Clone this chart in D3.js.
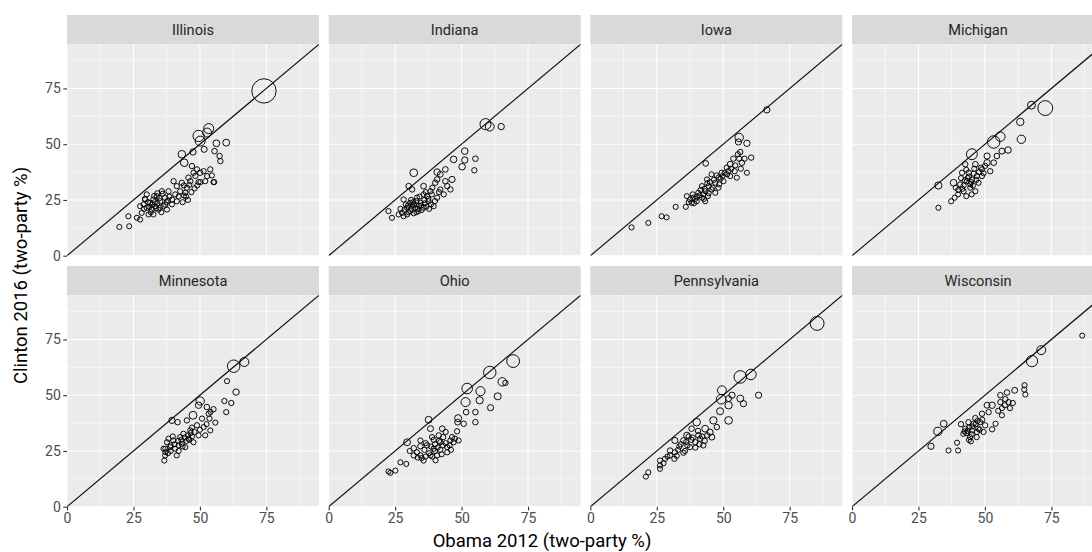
<!DOCTYPE html>
<html>
<head>
<meta charset="utf-8">
<script src="https://cdn.jsdelivr.net/npm/d3@7"></script>
<style>
  html, body { margin: 0; padding: 0; background: #fff; }
  svg { display: block; font-family: Roboto, "DejaVu Sans", sans-serif; }
</style>
</head>
<body>
<svg id="chart" width="1092" height="552"></svg>
<script>
// ---- data: [Obama 2012 %, Clinton 2016 %, population (thousands)] ----
const states = ["Illinois", "Indiana", "Iowa", "Michigan", "Minnesota", "Ohio", "Pennsylvania", "Wisconsin"];
const xTicks = [0, 25, 50, 75];
const yTicks = [0, 25, 50, 75];
const xTitle = "Obama 2012 (two-party %)";
const yTitle = "Clinton 2016 (two-party %)";

const illinois = [
  [74.1,73.9,5200],
  [53.3,57.0,700],[49.5,53.7,930],[52.7,55.2,520],[50.1,51.4,680],[56.2,50.4,200],[59.9,50.7,210],[51.6,47.7,110],[55.5,46.9,60],[57.4,44.7,50],[57.7,42.4,40],[43.2,45.5,300],[44.1,41.7,300],[47.4,46.5,130],
  [47.0,40.2,40],[48.9,38.7,35],[50.1,37.2,60],[47.6,37.2,30],[45.7,35.0,45],[51.4,37.9,30],[53.9,38.7,40],[52.7,35.7,25],[49.5,33.0,30],[55.4,33.0,20],[52.0,33.4,20],[48.3,35.8,40],[50.2,33.0,25],[55.1,33.0,20],[54.5,36.0,20],
  [40.1,33.4,35],[41.3,31.2,25],[43.2,32.7,35],[45.1,30.5,30],[42.6,28.9,25],[40.7,27.5,20],[44.5,28.2,25],[39.5,25.2,20],[41.3,24.4,20],[39.5,23.0,15],[46.4,33.4,40],[44.0,31.5,20],[42.0,26.5,15],
  [35.7,28.9,30],[33.8,26.7,25],[32.5,25.2,20],[35.1,24.4,30],[31.3,23.7,20],[33.2,22.2,20],[30.0,21.5,20],[31.9,20.7,15],[34.4,20.7,20],[29.4,25.2,20],[27.5,22.2,15],[28.1,19.2,15],[26.3,17.0,15],[30.7,18.5,15],[32.5,18.5,15],[36.3,22.2,25],[36.9,26.0,25],[30.0,27.5,20],[28.8,23.0,15],[23.1,17.7,15],[19.7,12.9,10],[23.4,13.2,10],[27.5,16.2,15],[37.6,20.7,20],[38.2,28.9,25],[34.0,23.5,20],[31.0,22.0,15],[33.0,24.0,20],[29.3,25.5,15],[35.0,21.5,15],[37.5,24.0,15],[38.5,26.5,20],
  [32.0,23.0,15],[34.8,25.8,15],[36.0,27.8,20],[33.5,21.2,15],[30.5,24.0,15],[29.0,21.0,15],[37.0,22.8,15],[35.5,19.5,15],[32.8,26.8,20],[34.0,28.0,20],[31.5,19.5,15],[38.0,24.8,15],[44.8,26.5,20],[45.5,25.0,20],[46.8,28.5,20],[43.5,24.0,15],[46.0,31.8,25],[48.0,30.2,20],[49.0,31.5,20],[44.0,27.0,15]
];
const indiana = [
  [59.0,59.0,900],[60.6,57.9,490],[64.9,57.9,140],
  [51.2,46.9,180],[47.0,43.2,170],[51.2,42.9,140],[55.2,43.5,60],[50.2,39.9,170],[54.8,38.3,40],[32.0,37.2,320],[40.8,37.5,160],[43.9,38.7,70],[42.0,36.5,80],[46.4,34.2,130],[43.9,33.4,60],[40.1,32.7,50],[35.7,31.2,70],[30.1,31.2,60],[31.4,29.7,40],[45.8,29.7,40],[42.0,29.7,30],[38.3,28.9,30],[35.7,27.5,25],[28.2,25.2,30],[33.2,26.0,25],[40.8,26.0,25],[43.3,27.5,30],[30.7,23.7,25],[34.5,23.7,20],[37.6,24.4,20],[29.5,21.5,20],[32.6,21.5,20],[35.7,21.5,20],[39.5,22.2,15],[27.6,19.2,20],[30.7,20.0,15],[33.8,20.0,15],[26.3,18.5,15],[28.2,17.7,15],[22.5,20.0,20],[23.8,17.0,15],[37.0,26.7,20],[44.6,31.2,40],[40.8,34.2,60],[31.5,22.5,15],[29.0,23.0,15],[33.0,24.5,20],[36.0,25.0,15],[38.5,23.0,15],[34.0,22.5,15],[31.0,25.0,15],[27.0,21.0,15],[36.5,28.5,15],[39.0,30.5,20],
  [29.8,22.5,15],[31.0,21.0,15],[32.2,23.0,15],[33.5,21.0,15],[34.8,22.5,15],[36.2,23.5,15],[30.0,19.5,15],[28.5,20.5,15],[32.0,19.0,15],[35.0,20.5,15],[37.5,25.5,15],[38.8,27.5,20],[34.2,26.5,15],[36.8,22.0,15],[31.8,24.0,15],[33.0,19.5,15],[29.5,18.5,15],[37.8,21.0,15],[40.0,24.5,20],[41.5,28.5,20]
];
const iowa = [
  [66.4,65.4,130],[43.4,41.4,70],[15.5,12.7,15],[21.8,14.7,10],[26.8,17.7,10],[28.7,17.2,10],[32.1,21.9,15],[35.9,21.9,10],
  [56.0,53.0,430],[55.7,51.0,130],[58.9,50.4,150],[56.4,46.5,40],[53.8,43.5,40],[56.0,43.5,30],[58.0,43.5,30],[60.5,44.0,40],[56.6,39.0,20],[54.3,37.9,25],[58.9,37.2,15],[51.3,39.5,25],[49.4,37.2,20],[52.6,35.7,20],[55.1,35.0,20],[48.2,35.0,20],[45.6,36.5,15],[47.0,32.7,15],[43.9,34.2,20],[44.5,31.2,15],[42.0,31.2,20],[43.3,28.9,15],[40.6,28.2,20],[38.7,26.0,15],[37.5,25.2,15],[40.0,24.4,15],[42.0,26.0,15],[45.6,29.7,15],[47.0,28.2,15],[44.2,26.7,15],[43.2,24.4,15],[36.3,26.7,15],[38.1,23.7,10],[48.2,30.5,15],[50.1,33.4,20],[52.6,41.0,90],[57.0,41.7,60],[41.0,27.0,15],[39.5,25.5,10],[42.5,27.5,10],[46.0,30.5,10],[49.0,34.5,15],
  [41.5,29.5,15],[43.0,30.0,15],[44.0,32.5,15],[45.0,33.0,15],[46.5,34.0,15],[47.5,36.0,15],[49.8,35.8,15],[48.5,32.0,15],[50.5,37.0,15],[52.0,38.0,15],[53.0,39.0,15],[40.0,26.5,15],[38.5,27.5,15],[42.8,25.5,15],[44.5,28.0,15],[37.0,24.0,10],[39.0,23.5,10],[51.5,36.5,15],[54.5,40.5,15],[55.5,45.5,20]
];
const michigan = [
  [72.7,66.2,1800],[67.5,67.5,350],[63.3,60.0,280],[63.7,52.2,420],[53.3,51.0,1200],[55.8,53.4,600],[58.7,47.4,160],[56.4,46.9,100],[54.5,44.7,60],[45.1,45.5,860],[50.8,44.7,120],[50.8,41.7,150],[53.3,41.7,70],[46.4,41.0,60],[42.6,41.0,40],[48.9,38.7,30],[52.0,37.9,40],[43.9,37.2,40],[41.4,37.2,30],[47.0,35.7,30],[45.1,34.2,25],[43.2,33.4,25],[47.6,32.7,20],[40.7,32.0,20],[38.2,32.7,190],[32.5,31.5,250],[44.5,30.5,20],[42.0,28.9,15],[46.4,28.9,15],[39.9,27.5,15],[43.0,26.7,15],[38.6,26.0,15],[37.3,24.4,15],[32.5,21.5,15],[48.9,35.7,20],[50.1,40.3,30],[44.0,35.5,20],[45.5,31.5,20],[41.5,30.0,15],[44.5,32.0,20],
  [43.5,34.8,15],[45.8,36.8,15],[44.8,33.0,15],[46.8,34.0,15],[42.5,33.8,15],[41.0,34.8,15],[47.8,37.5,15],[46.0,39.0,20],[43.0,38.5,15],[42.0,31.5,15],[40.0,29.5,15],[45.0,27.5,15],[48.5,39.5,20],[49.5,37.0,15],[39.0,30.5,15]
];
const minnesota = [
  [62.7,63.0,1200],[66.7,64.9,540],[60.2,56.3,20],[63.6,51.4,150],[61.8,46.5,30],[59.2,47.4,30],[59.9,42.4,25],[50.1,47.4,400],[49.5,45.5,150],[52.6,44.7,60],[55.1,43.7,40],[53.3,41.7,25],[55.8,37.7,20],[53.6,39.5,30],[53.9,34.2,15],[50.8,39.5,30],[47.4,41.0,340],[45.1,38.7,40],[39.5,38.7,130],[41.6,37.9,50],[48.9,36.5,40],[51.4,35.7,20],[46.4,34.2,30],[49.5,32.0,20],[43.8,32.7,25],[45.7,30.5,25],[42.6,31.2,20],[40.0,29.7,20],[43.2,28.2,15],[37.6,28.9,20],[38.8,26.7,15],[36.3,26.0,15],[40.7,26.0,15],[44.5,26.7,15],[36.9,23.0,15],[41.3,23.0,15],[36.6,20.7,15],[38.2,30.5,15],[47.6,28.9,15],[52.0,32.0,15],[42.0,27.5,15],[45.0,29.5,15],[47.0,31.5,15],[39.0,25.0,15],[37.0,24.5,15],
  [39.0,27.5,15],[40.5,28.0,15],[41.8,29.5,15],[43.0,30.0,15],[44.2,31.0,15],[45.5,32.0,15],[46.5,33.0,15],[42.0,25.0,15],[38.0,24.0,15],[37.0,26.0,15],[39.8,31.5,15],[43.5,27.0,15],[46.0,30.0,15],[48.0,33.5,15],[50.0,34.5,15],[52.5,37.0,15],[54.0,42.5,15],[47.0,35.5,15]
];
const ohio = [
  [69.4,65.3,1270],[60.6,60.2,1200],[65.3,56.0,430],[66.5,55.5,40],[52.1,53.0,800],[57.1,51.8,540],[51.5,46.9,530],[56.8,47.7,250],[63.6,49.5,230],[60.9,44.4,120],[55.2,42.4,60],[51.7,42.4,70],[55.2,37.9,50],[48.7,39.7,230],[48.5,37.9,80],[50.8,37.2,50],[48.3,33.8,40],[37.6,39.0,200],[38.3,35.0,100],[42.7,35.0,60],[41.4,32.0,40],[29.5,28.9,200],[32.0,26.2,60],[34.5,27.1,40],[37.0,27.5,40],[32.0,23.0,30],[34.5,23.0,30],[35.7,20.7,30],[39.5,26.0,30],[42.0,28.9,40],[44.6,26.7,30],[47.0,28.9,25],[48.9,29.7,20],[40.8,23.0,25],[44.6,24.4,25],[38.3,23.0,20],[27.0,19.9,20],[22.5,15.8,20],[23.2,15.2,15],[25.1,16.2,15],[29.2,19.2,15],[33.2,24.4,20],[45.8,29.7,20],[38.9,31.2,30],[43.1,31.2,30],[46.4,31.2,25],[34.5,29.7,20],[40.0,28.0,20],[36.0,25.5,20],[42.0,25.5,20],
  [36.5,22.5,15],[37.8,24.0,20],[39.0,22.5,15],[40.0,25.0,20],[41.0,26.5,20],[41.5,29.5,20],[43.0,27.5,20],[44.0,28.5,20],[45.5,27.5,20],[46.0,25.5,15],[38.5,27.0,20],[36.5,28.5,20],[39.5,30.0,20],[42.5,23.5,15],[35.0,21.8,15],[33.5,22.0,15],[40.2,20.8,15],[47.5,30.5,20],[44.0,33.5,30],[30.5,25.0,20]
];
const pennsylvania = [
  [85.3,82.2,1550],[56.4,58.2,1220],[60.4,59.3,800],[63.3,50.0,130],[49.5,52.2,500],[49.2,48.2,620],[52.0,48.5,100],[53.3,50.0,130],[52.0,45.5,280],[56.4,48.5,210],[57.6,46.2,130],[48.8,42.8,230],[52.0,38.7,320],[46.3,38.7,270],[47.6,35.7,50],[40.0,37.9,300],[38.1,35.0,60],[43.2,35.0,200],[45.0,33.4,140],[36.3,32.0,140],[40.7,32.0,80],[31.8,29.7,120],[35.0,29.7,60],[39.5,28.9,40],[42.5,27.5,40],[37.5,26.7,30],[30.0,25.2,40],[31.8,24.4,30],[35.0,24.2,30],[35.6,25.0,20],[30.0,23.0,20],[28.1,21.5,20],[31.6,21.5,30],[26.2,20.7,25],[26.2,18.5,20],[26.2,17.0,15],[21.8,15.4,20],[20.9,13.5,15],[41.3,30.5,40],[45.7,31.2,90],[38.0,30.0,40],[43.0,29.5,40],[33.5,27.0,25],
  [33.0,25.5,20],[34.0,28.0,20],[36.5,27.5,20],[38.5,31.0,30],[39.5,26.5,20],[41.0,28.0,30],[42.0,31.5,30],[40.5,34.0,40],[37.0,31.5,30],[32.5,22.8,15],[29.0,22.5,15],[44.0,32.0,40],[36.0,29.0,20],[27.5,19.5,15]
];
const wisconsin = [
  [86.6,76.7,5],[71.2,70.2,500],[67.7,65.3,950],[64.9,54.5,15],[64.8,52.5,20],[65.2,50.3,20],[61.2,52.2,100],[58.3,51.2,60],[55.8,50.0,50],[57.7,48.2,40],[55.8,46.9,30],[58.9,46.9,20],[56.4,44.2,20],[59.4,44.2,20],[56.4,41.0,20],[52.7,45.5,160],[50.8,45.5,100],[51.4,42.4,40],[48.9,41.7,40],[46.4,39.7,50],[48.2,37.9,30],[45.7,37.2,50],[43.8,37.9,30],[50.1,36.5,40],[42.6,35.0,30],[45.1,34.2,25],[41.9,32.7,25],[44.4,31.2,20],[46.9,31.2,20],[44.7,29.3,20],[52.7,34.7,30],[54.0,37.2,20],[39.5,28.7,15],[39.9,25.2,15],[36.3,25.2,15],[34.5,37.2,200],[32.3,33.8,390],[29.7,27.1,130],[41.0,37.0,40],[47.5,35.0,25],[43.0,33.0,20],[49.5,33.5,20],
  [44.0,35.5,20],[45.3,36.0,20],[46.5,37.0,20],[47.2,38.5,20],[45.0,32.5,20],[43.5,34.0,20],[48.0,34.5,20],[49.0,39.0,20],[47.0,33.5,20],[42.3,33.8,15],[44.0,30.0,15],[55.0,43.0,20],[57.5,45.5,20],[60.5,46.5,20]
];
const stateData = [illinois, indiana, iowa, michigan, minnesota, ohio, pennsylvania, wisconsin];

// ---- layout ----
const svg = d3.select("#chart");
const ncol = 4;
const panelW = 252, panelH = 211.4, stripH = 29.3;
const left0 = 67, top0 = 15, gapX = 9.67, rowPitch = 251;
const domainMax = 94.8;

const x = d3.scaleLinear().domain([0, domainMax]).range([0, panelW]);
const y = d3.scaleLinear().domain([0, domainMax]).range([panelH, 0]);
const area = d3.scaleLinear().domain([0, 5200]).range([6.2, 148]);
const radius = p => Math.sqrt(area(p));

const minorX = [12.5, 37.5, 62.5, 87.5];
const minorY = [12.5, 37.5, 62.5, 87.5];

const defs = svg.append("defs");

states.forEach((name, i) => {
  const col = i % ncol, row = Math.floor(i / ncol);
  const px = left0 + col * (panelW + gapX);
  const stripTop = top0 + row * rowPitch;
  const py = stripTop + stripH;

  // strip
  svg.append("rect").attr("x", px).attr("y", stripTop).attr("width", panelW).attr("height", stripH)
    .attr("fill", "#d9d9d9");
  svg.append("text").attr("x", px + panelW / 2).attr("y", stripTop + stripH / 2 + 5.8)
    .attr("text-anchor", "middle").attr("font-size", "14.6px").attr("fill", "#262626").text(name);

  const g = svg.append("g").attr("transform", `translate(${px},${py})`);
  g.append("rect").attr("width", panelW).attr("height", panelH).attr("fill", "#ebebeb");

  defs.append("clipPath").attr("id", "clip" + i)
    .append("rect").attr("width", panelW).attr("height", panelH);

  // grid
  g.selectAll(".minx").data(minorX).join("line")
    .attr("x1", d => x(d)).attr("x2", d => x(d)).attr("y1", 0).attr("y2", panelH)
    .attr("stroke", "#fff").attr("stroke-width", 0.55);
  g.selectAll(".miny").data(minorY).join("line")
    .attr("y1", d => y(d)).attr("y2", d => y(d)).attr("x1", 0).attr("x2", panelW)
    .attr("stroke", "#fff").attr("stroke-width", 0.55);
  g.selectAll(".majx").data(xTicks).join("line")
    .attr("x1", d => x(d)).attr("x2", d => x(d)).attr("y1", 0).attr("y2", panelH)
    .attr("stroke", "#fff").attr("stroke-width", 1.1);
  g.selectAll(".majy").data(yTicks).join("line")
    .attr("y1", d => y(d)).attr("y2", d => y(d)).attr("x1", 0).attr("x2", panelW)
    .attr("stroke", "#fff").attr("stroke-width", 1.1);

  const plot = g.append("g").attr("clip-path", `url(#clip${i})`);
  // identity line
  plot.append("line").attr("x1", x(0)).attr("y1", y(0)).attr("x2", x(100)).attr("y2", y(100))
    .attr("stroke", "#111").attr("stroke-width", 1.2);
  // points
  plot.selectAll("circle").data(stateData[i]).join("circle")
    .attr("cx", d => x(d[0])).attr("cy", d => y(d[1])).attr("r", d => radius(d[2]))
    .attr("fill", "none").attr("stroke", "#000").attr("stroke-width", 0.95);

  // axes
  if (col === 0) {
    const ya = g.append("g").call(d3.axisLeft(y).tickValues(yTicks).tickSize(3.7).tickPadding(2.5));
    ya.select(".domain").remove();
    ya.selectAll("line").attr("stroke", "#333").attr("stroke-width", 1.1);
    ya.selectAll("text").attr("fill", "#4d4d4d").attr("font-size", "14px").attr("font-family", "Roboto, sans-serif");
  }
  if (row === 1) {
    const xa = g.append("g").attr("transform", `translate(0,${panelH})`)
      .call(d3.axisBottom(x).tickValues(xTicks).tickSize(3.7).tickPadding(3));
    xa.select(".domain").remove();
    xa.selectAll("line").attr("stroke", "#333").attr("stroke-width", 1.1);
    xa.selectAll("text").attr("fill", "#4d4d4d").attr("font-size", "14px").attr("font-family", "Roboto, sans-serif");
  }
});

// axis titles
svg.append("text").attr("x", 542).attr("y", 546.5).attr("text-anchor", "middle")
  .attr("font-size", "18.5px").attr("fill", "#000").text(xTitle);
svg.append("text").attr("transform", "translate(27,275.5) rotate(-90)").attr("text-anchor", "middle")
  .attr("font-size", "18.5px").attr("fill", "#000").text(yTitle);
</script>
</body>
</html>
